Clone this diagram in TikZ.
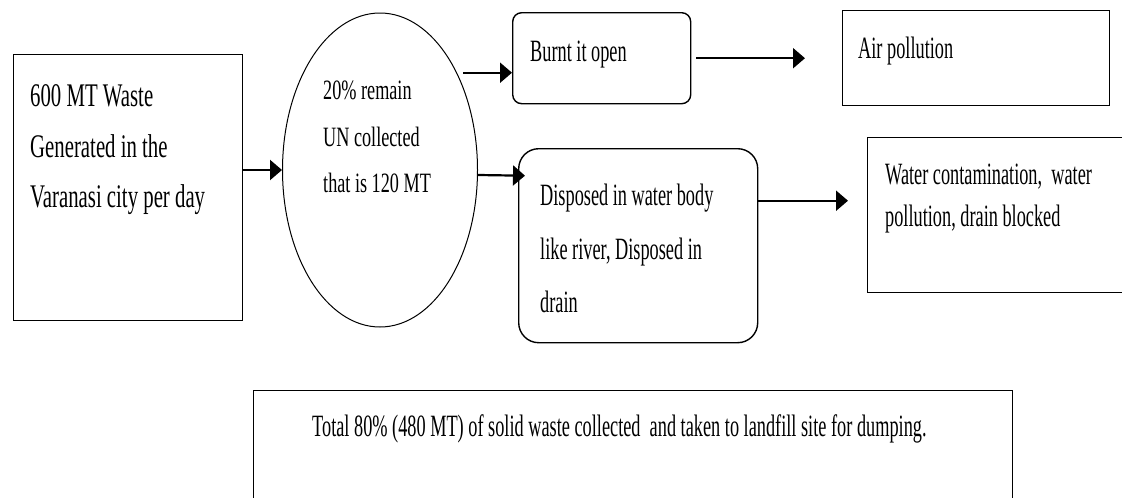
\documentclass[tikz,border=0pt]{standalone}
\usepackage{fontspec}
\setmainfont[FakeStretch=0.59]{Liberation Serif}
\newfontfamily\fbig[FakeStretch=0.63]{Liberation Serif}
\newfontfamily\fcirc[FakeStretch=0.65]{Liberation Serif}
\usetikzlibrary{arrows.meta,shapes.geometric}
\begin{document}
\begin{tikzpicture}[x=1pt,y=-1pt,
  box/.style={draw, line width=1.4pt, inner sep=0pt, anchor=north west},
  txt/.style={anchor=north west, inner sep=0pt, align=left},
  arr/.style={line width=2.2pt, -{Triangle[length=12pt,width=20pt]}}]
\useasboundingbox (0,0) rectangle (1122,498);
\fill[white] (0,0) rectangle (1122,498);
\clip (0,0) rectangle (1122,498);

% shapes
\node[box, minimum width=229pt, minimum height=266pt] (b1) at (13,54) {};
\node[draw, ellipse, line width=1pt, inner sep=0pt, minimum width=195pt, minimum height=314pt] (circ) at (380,170) {};
\node[box, rounded corners=9pt, minimum width=178pt, minimum height=91pt] (burnt) at (512,12) {};
\node[box, minimum width=267pt, minimum height=95pt] (air) at (842,10) {};
\node[box, rounded corners=20pt, minimum width=239pt, minimum height=194pt] (disp) at (518,148) {};
\node[box, minimum width=280pt, minimum height=155pt] (water) at (867,137) {};
\node[box, minimum width=759pt, minimum height=130pt] (total) at (253,390) {};

% texts
\node[txt, font={\fbig\fontsize{33}{50.5}\selectfont}] (t1) at (30,84.5) {600 MT Waste\\Generated in the\\Varanasi city per day};
\node[txt, font={\fcirc\fontsize{28}{46.5}\selectfont}] (tc) at (323,81) {20\% remain\\UN collected\\that is 120 MT};
\node[txt, font={\fontsize{31}{31}\selectfont}] (tb) at (530,41) {Burnt it open};
\node[txt, font={\fontsize{31}{31}\selectfont}] (ta) at (858,37) {Air pollution};
\node[txt, font={\fontsize{31}{53.5}\selectfont}] (td) at (540,184) {Disposed in water body\\like river, Disposed in\\drain};
\node[txt, font={\fontsize{31}{42}\selectfont}] (tw) at (885,164) {Water contamination,\ \ water\\pollution, drain blocked};
\node[txt, font={\fontsize{31}{31}\selectfont}] (tt) at (312,414) {Total 80\% (480 MT) of solid waste collected\ \ and taken to landfill site for dumping.};

% connectors
\draw[arr] (b1.east |- circ.west) -- (circ.west);
\draw[arr] ([xshift=-15pt,yshift=-14.5pt]circ.east |- burnt.west) -- ([yshift=-14.5pt]burnt.west);
\draw[arr] ([xshift=5pt]burnt.east) -- ([xshift=-37pt]air.west);
\draw[arr] ([yshift=-5pt]circ.east) -- ([xshift=7pt,yshift=70pt]disp.west);
\draw[arr] ([yshift=45pt]disp.east) -- ([xshift=-19pt,yshift=14.5pt]water.west);
\end{tikzpicture}
\end{document}
